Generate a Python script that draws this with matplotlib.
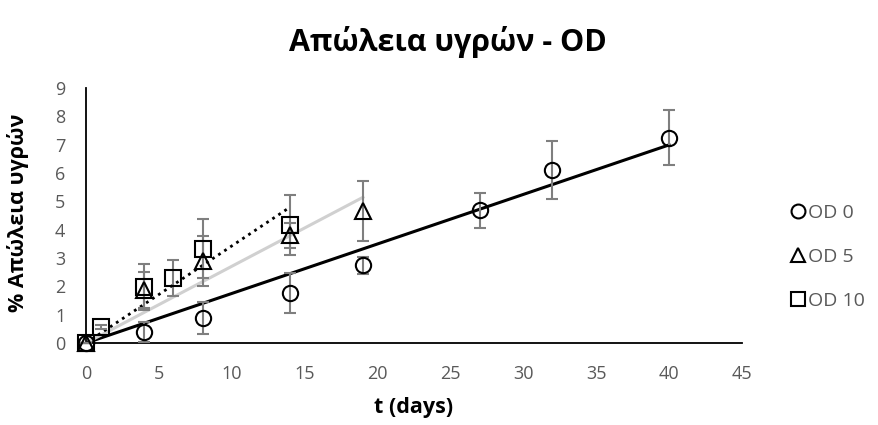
import numpy as np
import matplotlib
matplotlib.use("Agg")
import matplotlib.pyplot as plt

plt.rcParams['font.family'] = ['Open Sans', 'DejaVu Sans']

# --- data: time (days), % loss, std ---
t_od0 = [0, 4, 8, 14, 19, 27, 32, 40]
y_od0 = [0, 0.39, 0.88, 1.77, 2.75, 4.69, 6.10, 7.25]
e_od0 = [0, 0.35, 0.56, 0.70, 0.30, 0.62, 1.02, 0.97]

t_od5 = [0, 4, 8, 14, 19]
y_od5 = [0, 1.87, 2.90, 3.80, 4.66]
e_od5 = [0, 0.62, 0.88, 0.45, 1.07]

t_od10 = [0, 1, 4, 6, 8, 14]
y_od10 = [0, 0.57, 1.98, 2.30, 3.32, 4.17]
e_od10 = [0, 0.08, 0.80, 0.63, 1.04, 1.05]

labels = ['OD 0', 'OD 5', 'OD 10']
markers = ['o', '^', 's']
trend_styles = [dict(color='black', ls='-', lw=2.2),
                dict(color='#d0d0d0', ls='-', lw=2.2),
                dict(color='black', ls=(0, (1, 1.6)), lw=2.0)]

series = [(t_od0, y_od0, e_od0), (t_od5, y_od5, e_od5), (t_od10, y_od10, e_od10)]

fig = plt.figure(figsize=(8.79, 4.25), dpi=100)
ax = fig.add_axes([86 / 879, 82 / 425, 656 / 879, 255 / 425])

handles = []
for (t, y, e), lab, m, st in zip(series, labels, markers, trend_styles):
    t = np.array(t, float)
    y = np.array(y, float)
    # linear trendline forced through origin
    k = np.sum(t * y) / np.sum(t * t)
    tt = np.array([0, t.max()])
    ax.plot(tt, k * tt, zorder=2, **st)
    ax.errorbar(t, y, yerr=e, fmt='none', ecolor='#7f7f7f', elinewidth=1.5,
                capsize=4.5, capthick=1.5, zorder=3, clip_on=False)
    h, = ax.plot(t, y, ls='none', marker=m, ms=11 if m != '^' else 11.5,
                 mfc='none', mec='black', mew=1.5, zorder=4, clip_on=False)
    handles.append(h)

ax.set_xlim(0, 45)
ax.set_ylim(0, 9)
ax.set_xticks(range(0, 46, 5))
ax.set_yticks(range(0, 10))
for s in ['top', 'right']:
    ax.spines[s].set_visible(False)
for s in ['left', 'bottom']:
    ax.spines[s].set_color('black')
    ax.spines[s].set_linewidth(1.3)
ax.tick_params(length=0, labelsize=13, labelcolor='#595959')
ax.tick_params(axis='x', pad=16)
ax.tick_params(axis='y', pad=15)

fig.text(0.51, 0.90, 'Απώλεια υγρών - OD', ha='center', va='center',
         fontsize=22, fontweight='bold', color='black')
fig.text(414 / 879, 1 - 408 / 425, 't (days)', ha='center', va='center',
         fontsize=15.5, fontweight='bold', color='black')
fig.text(18 / 879, 1 - 213 / 425, '% Απώλεια υγρών', ha='center', va='center',
         rotation=90, fontsize=15.5, fontweight='bold', color='black')

leg = fig.legend(handles, labels, loc='center left', bbox_to_anchor=(784 / 879, 1 - 257 / 425),
                 frameon=False, fontsize=14, handlelength=0.6, handletextpad=0.25,
                 labelspacing=1.35, borderaxespad=0)
for txt in leg.get_texts():
    txt.set_color('#595959')
for lh in leg.legend_handles:
    lh.set_markersize(10)

fig.savefig('out.png', dpi=100)
